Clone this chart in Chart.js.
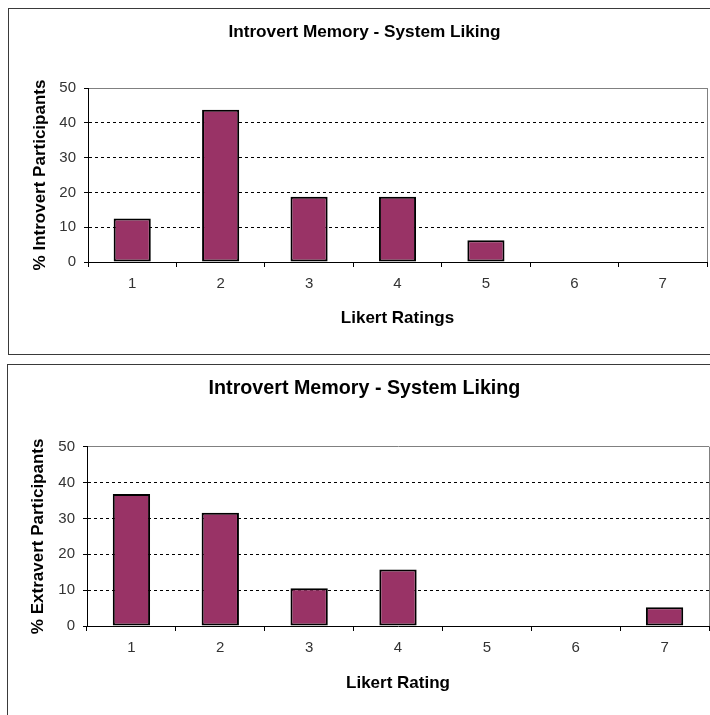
<!DOCTYPE html>
<html>
<head>
<meta charset="utf-8">
<script src="https://cdn.jsdelivr.net/npm/chart.js@4/dist/chart.umd.min.js"></script>
<style>
  html, body { margin: 0; padding: 0; background: #fff; overflow: hidden; width: 710px; height: 715px; }
  .frame { position: absolute; border: 1px solid #3a3a3a; box-sizing: border-box; }
  #f1 { left: 8px; top: 8px; width: 720px; height: 347px; }
  #f2 { left: 7px; top: 364px; width: 720px; height: 380px; }
  canvas { position: absolute; left: 0; }
  #c1 { top: 0; }
  #c2 { top: 358px; }
</style>
</head>
<body>
<div class="frame" id="f1"></div>
<div class="frame" id="f2"></div>
<canvas id="c1" width="710" height="358"></canvas>
<canvas id="c2" width="710" height="357"></canvas>
<script>
// Likert scale categories
const ratings = ['1', '2', '3', '4', '5', '6', '7'];

// Share of participants (%) giving each rating
const introvertPct = [12.5, 43.75, 18.75, 18.75, 6.25, 0, 0];
const extravertPct = [36.84, 31.58, 10.53, 15.79, 0, 0, 5.26];

// Value axis range
const yMin = 0;
const yMax = 50;
const yStep = 10;

const FONT = "'Liberation Sans', Arial, Helvetica, sans-serif";
const BAR_FILL = '#993366';

function buildChart(canvasId, opts) {
  return new Chart(document.getElementById(canvasId), {
    type: 'bar',
    data: {
      labels: ratings,
      datasets: [{
        data: opts.values,
        backgroundColor: BAR_FILL,
        borderColor: '#000',
        borderWidth: 2,
        borderSkipped: false,
        categoryPercentage: 1.0,
        barPercentage: 0.42
      }]
    },
    options: {
      responsive: false,
      animation: false,
      devicePixelRatio: 1,
      layout: { padding: { left: opts.padLeft, right: opts.padRight, top: 0, bottom: 0 } },
      plugins: {
        legend: { display: false },
        tooltip: { enabled: false },
        title: {
          display: true,
          text: 'Introvert Memory - System Liking',
          color: '#000',
          font: { family: FONT, size: opts.titleSize, weight: 'bold', lineHeight: 1.2 },
          padding: { top: opts.titlePadTop, bottom: opts.titlePadBottom }
        }
      },
      scales: {
        x: {
          offset: true,
          afterFit: (s) => { s.height = opts.xHeight; },
          grid: {
            offset: true,
            drawOnChartArea: true,
            drawTicks: true,
            tickLength: 5,
            tickColor: '#000',
            lineWidth: 1,
            // only the closing line on the right edge of the plot frame is shown
            color: (ctx) => (ctx.type === 'scale' ? '#808080' : 'rgba(0,0,0,0)')
          },
          border: { display: true, color: '#000', width: 1 },
          ticks: {
            color: '#333',
            padding: 8,
            font: { family: FONT, size: 15 }
          },
          title: {
            display: true,
            text: opts.xTitle,
            color: '#000',
            font: { family: FONT, size: 17, weight: 'bold', lineHeight: 1.2 },
            padding: { top: 0, bottom: opts.xTitlePadBottom }
          }
        },
        y: {
          min: yMin,
          max: yMax,
          afterFit: (s) => { s.width = opts.yWidth; },
          grid: {
            drawTicks: true,
            tickLength: 4,
            tickColor: '#000',
            lineWidth: 1,
            color: (ctx) => {
              if (!ctx.tick) return '#000';
              if (ctx.tick.value === yMin) return 'rgba(0,0,0,0)';
              if (ctx.tick.value === yMax) return '#808080';
              return '#000';
            }
          },
          border: {
            display: true,
            color: '#000',
            width: 1,
            dash: (ctx) => (ctx.tick && ctx.tick.value === yMax ? [] : [3, 3])
          },
          ticks: {
            stepSize: yStep,
            color: '#333',
            padding: 8,
            font: { family: FONT, size: 15 }
          },
          title: {
            display: true,
            text: opts.yTitle,
            color: '#000',
            font: { family: FONT, size: 17, weight: 'bold', lineHeight: 1.2 },
            padding: { top: 7.8, bottom: 0 }
          }
        }
      }
    }
  });
}

buildChart('c1', {
  values: introvertPct,
  yTitle: '% Introvert Participants',
  xTitle: 'Likert Ratings',
  padLeft: 22, padRight: 3,
  titleSize: 17.2, titlePadTop: 21.7, titlePadBottom: 45.7,
  xHeight: 96, xTitlePadBottom: 29.8,
  yWidth: 66
});

buildChart('c2', {
  values: extravertPct,
  yTitle: '% Extravert Participants',
  xTitle: 'Likert Rating',
  padLeft: 20, padRight: 1,
  titleSize: 19.7, titlePadTop: 18.5, titlePadBottom: 46.56,
  xHeight: 89, xTitlePadBottom: 21.5,
  yWidth: 67
});
</script>
</body>
</html>
